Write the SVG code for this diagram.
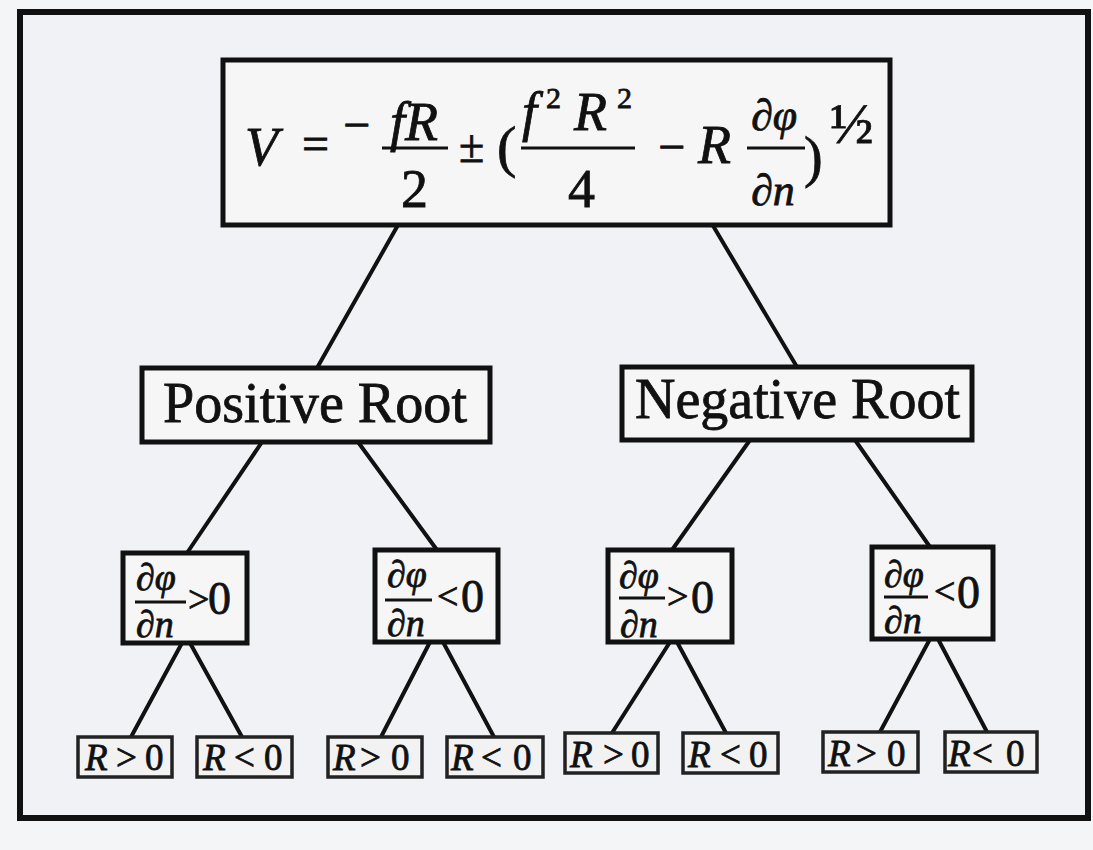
<svg xmlns="http://www.w3.org/2000/svg" width="1093" height="850" viewBox="0 0 1093 850">
<style>
  text { font-family: "Liberation Serif", "Times New Roman", serif; fill: #111; stroke: #111; stroke-width: 0.8; }
  .it { font-style: italic; }
  .box { fill: #f6f6f6; stroke: #111; stroke-width: 5; }
  .sbox { fill: #f2f2f2; stroke: #222; stroke-width: 3.5; }
  .bar { stroke: #111; stroke-width: 3; }
  .conn line { stroke: #111; stroke-width: 4; stroke-linecap: round; }
  .lbl { font-size: 56px; }
  .br { font-size: 37px; }
</style>
<rect x="0" y="0" width="1093" height="850" fill="#f4f5f7"/>
<rect id="frame" x="20" y="12" width="1068" height="806" fill="#f1f2f5" stroke="#111" stroke-width="6"/>

<g class="conn">
  <line x1="398" y1="225" x2="317" y2="368"/>
  <line x1="712" y1="224" x2="797" y2="367"/>
  <line x1="262" y1="442" x2="187" y2="553"/>
  <line x1="358" y1="442" x2="437" y2="550"/>
  <line x1="750" y1="440" x2="672" y2="550"/>
  <line x1="855" y1="440" x2="930" y2="547"/>
  <line x1="182" y1="643" x2="131" y2="737"/>
  <line x1="190" y1="643" x2="242" y2="737"/>
  <line x1="430" y1="642" x2="381" y2="737"/>
  <line x1="443" y1="642" x2="494" y2="737"/>
  <line x1="670" y1="642" x2="612" y2="733"/>
  <line x1="677" y1="642" x2="726" y2="733"/>
  <line x1="930" y1="639" x2="880" y2="732"/>
  <line x1="938" y1="639" x2="987" y2="732"/>
</g>

<g id="formula">
  <rect class="box" x="223" y="60" width="667" height="165"/>
  <text class="it" x="245" y="165" font-size="54">V</text>
  <text x="302" y="160" font-size="48">=</text>
  <text x="343" y="141" font-size="48">−</text>
  <text class="it" x="390" y="140" font-size="54">fR</text>
  <line class="bar" x1="382" y1="148" x2="448" y2="148"/>
  <text x="401" y="207" font-size="54">2</text>
  <text x="459" y="162" font-size="46">±</text>
  <text x="497" y="166" font-size="58">(</text>
  <text class="it" x="522" y="130" font-size="54">f</text>
  <text x="546" y="108" font-size="30">2</text>
  <text class="it" x="574" y="130" font-size="54">R</text>
  <text x="617" y="108" font-size="30">2</text>
  <line class="bar" x1="521" y1="148" x2="635" y2="148"/>
  <text x="568" y="207" font-size="54">4</text>
  <text x="658" y="163" font-size="48">−</text>
  <text class="it" x="698" y="163" font-size="54">R</text>
  <text class="it" x="751" y="130" font-size="44">∂φ</text>
  <line class="bar" x1="747" y1="148" x2="805" y2="148"/>
  <text class="it" x="751" y="205" font-size="44">∂n</text>
  <text x="804" y="176" font-size="56">)</text>
  <text x="830" y="143" font-size="58">½</text>
</g>

<g id="positive-root">
  <rect class="box" x="142" y="368" width="348" height="74"/>
  <text class="lbl" x="163" y="422" textLength="304" lengthAdjust="spacingAndGlyphs">Positive Root</text>
</g>
<g id="negative-root">
  <rect class="box" x="622" y="367" width="350" height="73"/>
  <text class="lbl" x="635" y="418" textLength="325" lengthAdjust="spacingAndGlyphs">Negative Root</text>
</g>

<g id="pos-dphi-gt">
  <rect class="box" x="123" y="553" width="124" height="90"/>
  <text class="it" x="136" y="590" font-size="38">∂φ</text>
  <line class="bar" x1="135" y1="602" x2="186" y2="602"/>
  <text class="it" x="136" y="637" font-size="38">∂n</text>
  <text x="188" y="612" font-size="38">&gt;</text>
  <text x="208" y="614" font-size="46">0</text>
</g>
<g id="pos-dphi-lt">
  <rect class="box" x="375" y="550" width="123" height="92"/>
  <text class="it" x="387" y="587" font-size="38">∂φ</text>
  <line class="bar" x1="385" y1="600" x2="432" y2="600"/>
  <text class="it" x="387" y="636" font-size="38">∂n</text>
  <text x="437" y="609" font-size="38">&lt;</text>
  <text x="461" y="612" font-size="46">0</text>
</g>
<g id="neg-dphi-gt">
  <rect class="box" x="608" y="550" width="124" height="92"/>
  <text class="it" x="619" y="588" font-size="38">∂φ</text>
  <line class="bar" x1="619" y1="598" x2="665" y2="598"/>
  <text class="it" x="620" y="637" font-size="38">∂n</text>
  <text x="667" y="609" font-size="38">&gt;</text>
  <text x="691" y="613" font-size="46">0</text>
</g>
<g id="neg-dphi-lt">
  <rect class="box" x="872" y="547" width="121" height="92"/>
  <text class="it" x="884" y="587" font-size="38">∂φ</text>
  <line class="bar" x1="884" y1="597" x2="928" y2="597"/>
  <text class="it" x="884" y="633" font-size="38">∂n</text>
  <text x="934" y="604" font-size="38">&lt;</text>
  <text x="957" y="608" font-size="46">0</text>
</g>

<g id="leaf-1"><rect class="sbox" x="78" y="737" width="94" height="40"/><text class="br" y="770"><tspan class="it" x="85">R</tspan><tspan x="116">&gt;</tspan><tspan x="145">0</tspan></text></g>
<g id="leaf-2"><rect class="sbox" x="197" y="737" width="95" height="40"/><text class="br" y="770"><tspan class="it" x="203">R</tspan><tspan x="234">&lt;</tspan><tspan x="264">0</tspan></text></g>
<g id="leaf-3"><rect class="sbox" x="328" y="737" width="94" height="40"/><text class="br" y="770"><tspan class="it" x="333">R</tspan><tspan x="360">&gt;</tspan><tspan x="391">0</tspan></text></g>
<g id="leaf-4"><rect class="sbox" x="447" y="737" width="96" height="40"/><text class="br" y="770"><tspan class="it" x="451">R</tspan><tspan x="481">&lt;</tspan><tspan x="513">0</tspan></text></g>
<g id="leaf-5"><rect class="sbox" x="565" y="733" width="93" height="40"/><text class="br" y="767"><tspan class="it" x="570">R</tspan><tspan x="603">&gt;</tspan><tspan x="631">0</tspan></text></g>
<g id="leaf-6"><rect class="sbox" x="683" y="733" width="95" height="40"/><text class="br" y="767"><tspan class="it" x="688">R</tspan><tspan x="720">&lt;</tspan><tspan x="749">0</tspan></text></g>
<g id="leaf-7"><rect class="sbox" x="823" y="732" width="95" height="40"/><text class="br" y="766"><tspan class="it" x="828">R</tspan><tspan x="856">&gt;</tspan><tspan x="887">0</tspan></text></g>
<g id="leaf-8"><rect class="sbox" x="945" y="732" width="92" height="40"/><text class="br" y="766"><tspan class="it" x="948">R</tspan><tspan x="972">&lt;</tspan><tspan x="1006">0</tspan></text></g>
</svg>
